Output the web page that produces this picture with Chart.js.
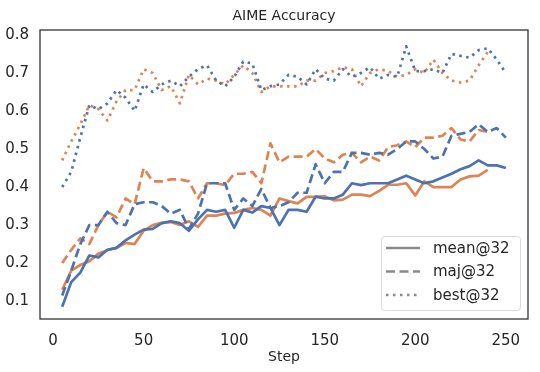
<!DOCTYPE html>
<html>
<head>
<meta charset="utf-8">
<script src="https://cdn.jsdelivr.net/npm/chart.js@4"></script>
<style>
  html, body { margin: 0; padding: 0; background: #fff; }
  #wrap { width: 540px; height: 372px; }
</style>
</head>
<body>
<div id="wrap"><canvas id="chart" width="540" height="372"></canvas></div>
<script>
const steps = [5, 10, 15, 20, 25, 30, 35, 40, 45, 50, 55, 60, 65, 70, 75, 80, 85, 90, 95, 100,
  105, 110, 115, 120, 125, 130, 135, 140, 145, 150, 155, 160, 165, 170, 175, 180, 185, 190, 195, 200,
  205, 210, 215, 220, 225, 230, 235, 240, 245, 250];

const blueMean = [0.085, 0.15, 0.175, 0.22, 0.215, 0.235, 0.24, 0.26, 0.275, 0.288,
  0.29, 0.305, 0.31, 0.305, 0.285, 0.315, 0.34, 0.335, 0.34, 0.293,
  0.34, 0.333, 0.35, 0.345, 0.30, 0.34, 0.34, 0.335, 0.375, 0.37,
  0.37, 0.38, 0.41, 0.405, 0.41, 0.41, 0.41, 0.42, 0.43, 0.42,
  0.41, 0.415, 0.425, 0.435, 0.447, 0.455, 0.47, 0.457, 0.457, 0.45];
const blueMaj = [0.115, 0.18, 0.25, 0.30, 0.30, 0.335, 0.305, 0.30, 0.355, 0.36,
  0.36, 0.35, 0.33, 0.34, 0.29, 0.33, 0.41, 0.41, 0.41, 0.34,
  0.37, 0.35, 0.395, 0.345, 0.35, 0.36, 0.385, 0.385, 0.46, 0.41,
  0.44, 0.44, 0.49, 0.49, 0.485, 0.49, 0.485, 0.50, 0.52, 0.52,
  0.50, 0.475, 0.48, 0.535, 0.54, 0.545, 0.565, 0.545, 0.555, 0.53];
const blueBest = [0.40, 0.44, 0.53, 0.615, 0.605, 0.62, 0.655, 0.635, 0.60, 0.67,
  0.65, 0.67, 0.68, 0.665, 0.69, 0.71, 0.72, 0.68, 0.665, 0.69,
  0.73, 0.725, 0.655, 0.665, 0.67, 0.695, 0.69, 0.67, 0.71, 0.685,
  0.68, 0.71, 0.69, 0.70, 0.715, 0.685, 0.695, 0.69, 0.77, 0.705,
  0.705, 0.71, 0.70, 0.75, 0.745, 0.74, 0.76, 0.765, 0.735, 0.70];

const orangeMean = [0.13, 0.18, 0.195, 0.205, 0.225, 0.234, 0.24, 0.253, 0.25, 0.285,
  0.30, 0.306, 0.308, 0.30, 0.31, 0.295, 0.325, 0.325, 0.33, 0.332,
  0.34, 0.345, 0.34, 0.325, 0.37, 0.363, 0.357, 0.374, 0.374, 0.376,
  0.365, 0.367, 0.38, 0.38, 0.376, 0.39, 0.406, 0.406, 0.41, 0.378,
  0.415, 0.40, 0.40, 0.40, 0.42, 0.428, 0.43, 0.445];
const orangeMaj = [0.20, 0.235, 0.265, 0.25, 0.30, 0.335, 0.32, 0.37, 0.355, 0.45,
  0.415, 0.415, 0.42, 0.42, 0.415, 0.37, 0.41, 0.41, 0.405, 0.435,
  0.435, 0.44, 0.41, 0.515, 0.465, 0.48, 0.48, 0.48, 0.50, 0.475,
  0.465, 0.485, 0.49, 0.465, 0.48, 0.47, 0.505, 0.51, 0.52, 0.505,
  0.53, 0.53, 0.535, 0.555, 0.525, 0.52, 0.55, 0.545];
const orangeBest = [0.47, 0.52, 0.565, 0.615, 0.605, 0.575, 0.625, 0.655, 0.655, 0.71,
  0.70, 0.655, 0.665, 0.62, 0.695, 0.67, 0.685, 0.68, 0.67, 0.695,
  0.72, 0.70, 0.65, 0.665, 0.665, 0.665, 0.665, 0.68, 0.68, 0.70,
  0.705, 0.715, 0.71, 0.665, 0.70, 0.71, 0.705, 0.69, 0.695, 0.71,
  0.70, 0.735, 0.70, 0.68, 0.675, 0.68, 0.72, 0.755];

const xTicks = [0, 50, 100, 150, 200, 250];
const yTicks = [0.1, 0.2, 0.3, 0.4, 0.5, 0.6, 0.7, 0.8];
const legendNames = ['mean@32', 'maj@32', 'best@32'];

const BLUE = '#4c72b0';
const ORANGE = '#dd8452';
const TEXT = '#262626';
const FONT = "'DejaVu Sans', sans-serif";
const DASHES = [[], [9, 4.5], [2.5, 4.5]];

function pts(vals) {
  return vals.map((v, i) => ({ x: steps[i], y: v }));
}

function line(vals, color, style) {
  return {
    data: pts(vals),
    borderColor: color,
    borderWidth: 2.7,
    borderDash: DASHES[style],
    borderCapStyle: 'butt',
    borderJoinStyle: 'round',
    pointRadius: 0,
    fill: false,
    tension: 0
  };
}

// title + frame + legend drawn inside the axes box, matplotlib style
const framePlugin = {
  id: 'frame',
  afterDraw(chart) {
    const ctx = chart.ctx;
    const a = chart.chartArea;
    ctx.save();
    ctx.strokeStyle = '#333';
    ctx.lineWidth = 1.3;
    ctx.setLineDash([]);
    ctx.strokeRect(a.left, a.top, a.right - a.left, a.bottom - a.top);

    ctx.fillStyle = TEXT;
    ctx.font = '14px ' + FONT;
    ctx.textAlign = 'center';
    ctx.textBaseline = 'middle';
    ctx.fillText('AIME Accuracy', (a.left + a.right) / 2, 16);

    // legend box
    const bx = 381, by = 236, bw = 139, bh = 74;
    ctx.fillStyle = 'rgba(255,255,255,0.85)';
    ctx.strokeStyle = '#d9d9d9';
    ctx.lineWidth = 1;
    ctx.beginPath();
    ctx.roundRect(bx + 0.5, by + 0.5, bw, bh, 3);
    ctx.fill();
    ctx.stroke();

    ctx.font = '15px ' + FONT;
    ctx.textAlign = 'left';
    legendNames.forEach((name, i) => {
      const y = 248 + i * 23.5;
      ctx.strokeStyle = '#8a8a8a';
      ctx.lineWidth = 2.7;
      ctx.lineCap = 'butt';
      ctx.setLineDash(DASHES[i]);
      ctx.beginPath();
      ctx.moveTo(386, y);
      ctx.lineTo(420, y);
      ctx.stroke();
      ctx.fillStyle = TEXT;
      ctx.fillText(name, 433, y + 1);
    });
    ctx.restore();
  }
};

const ctx = document.getElementById('chart').getContext('2d');

const myChart = new Chart(ctx, {
  type: 'line',
  data: {
    datasets: [
      line(blueMean, BLUE, 0),
      line(blueMaj, BLUE, 1),
      line(blueBest, BLUE, 2),
      line(orangeMean, ORANGE, 0),
      line(orangeMaj, ORANGE, 1),
      line(orangeBest, ORANGE, 2)
    ]
  },
  options: {
    responsive: false,
    animation: false,
    layout: { padding: { top: 30, right: 12, bottom: 0, left: 0 } },
    plugins: {
      legend: { display: false },
      title: { display: false },
      tooltip: { enabled: false }
    },
    scales: {
      x: {
        type: 'linear',
        min: -7.25,
        max: 262.25,
        grid: { display: false, drawTicks: false },
        border: { display: false },
        afterBuildTicks: axis => { axis.ticks = xTicks.map(v => ({ value: v })); },
        afterFit: axis => { axis.height = 53; },
        ticks: {
          color: TEXT,
          padding: 13,
          font: { family: FONT, size: 15 }
        },
        title: {
          display: true,
          text: 'Step',
          color: TEXT,
          padding: { top: 0, bottom: 6 },
          font: { family: FONT, size: 14 }
        }
      },
      y: {
        min: 0.053,
        max: 0.813,
        grid: { display: false, drawTicks: false },
        border: { display: false },
        afterBuildTicks: axis => { axis.ticks = yTicks.map(v => ({ value: v })); },
        afterFit: axis => { axis.width = 40; },
        ticks: {
          color: TEXT,
          padding: 11,
          font: { family: FONT, size: 15 },
          callback: v => v.toFixed(1)
        }
      }
    }
  },
  plugins: [framePlugin]
});
</script>
</body>
</html>
